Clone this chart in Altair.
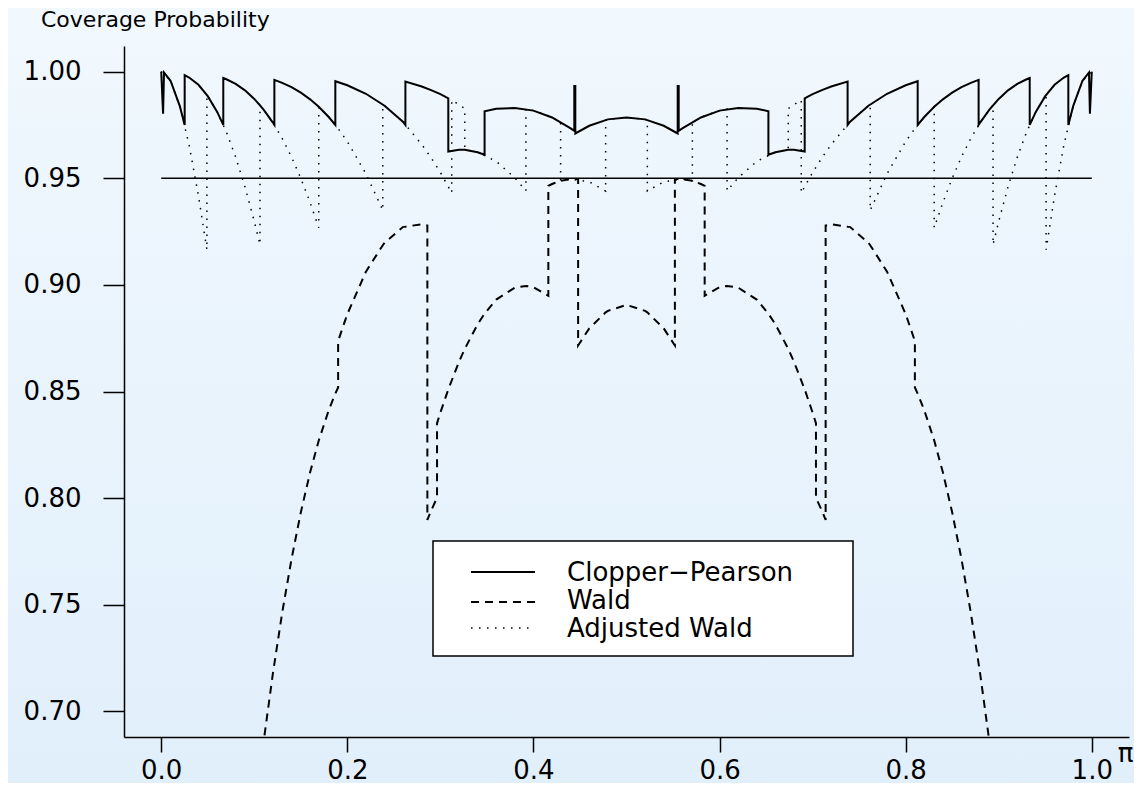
import altair as alt
import pandas as pd

# ---- data (coverage probability vs pi) ----
cp_x = [0.0, 0.001, 0.002, 0.003, 0.01, 0.02, 0.0252, 0.0252, 0.03, 0.04, 0.05, 0.06, 0.0667, 0.0667,
        0.07, 0.08, 0.09, 0.10, 0.11, 0.12, 0.1216, 0.1216, 0.13, 0.14, 0.15, 0.16, 0.1693, 0.18,
        0.1871, 0.1871, 0.20, 0.22, 0.24, 0.26, 0.2624, 0.2624, 0.28, 0.29, 0.30, 0.3085, 0.3085,
        0.32, 0.3262, 0.34, 0.3475, 0.3475, 0.36, 0.38, 0.40, 0.42, 0.44, 0.4439, 0.4439, 0.445, 0.445,
        0.46, 0.48, 0.50,
        0.52, 0.54, 0.555, 0.555, 0.5561, 0.5561, 0.56, 0.58, 0.60, 0.62, 0.64, 0.6525, 0.6525, 0.66,
        0.6738, 0.68, 0.6915, 0.6915, 0.70, 0.71, 0.72, 0.7376, 0.7376, 0.74, 0.76, 0.78, 0.80, 0.8129,
        0.8129, 0.82, 0.8307, 0.84, 0.85, 0.86, 0.87, 0.8784, 0.8784, 0.88, 0.89, 0.90, 0.91, 0.92,
        0.93, 0.9333, 0.9333, 0.94, 0.95, 0.96, 0.97, 0.9748, 0.9748, 0.98, 0.99, 0.997, 0.998, 0.999, 1.0]
cp_y = [1.0, 0.9900, 0.9802, 0.9996, 0.9957, 0.9838, 0.9750, 0.9983, 0.9972, 0.9938, 0.9885, 0.9812, 0.9750, 0.9970,
        0.9964, 0.9942, 0.9912, 0.9872, 0.9822, 0.9761, 0.9750, 0.9961, 0.9947, 0.9927, 0.9901, 0.9870, 0.9835, 0.9787,
        0.9750, 0.9955, 0.9936, 0.9896, 0.9840, 0.9764, 0.9750, 0.9953, 0.9930, 0.9913, 0.9894, 0.9875, 0.9625,
        0.9634, 0.9634, 0.9622, 0.9610, 0.9814, 0.9826, 0.9829, 0.9817, 0.9785, 0.9734, 0.9722, 0.9932, 0.9932, 0.9710,
        0.9746, 0.9776, 0.9785,
        0.9776, 0.9746, 0.9710, 0.9932, 0.9932, 0.9722, 0.9734, 0.9785, 0.9817, 0.9829, 0.9826, 0.9814, 0.9610, 0.9622,
        0.9634, 0.9634, 0.9625, 0.9875, 0.9894, 0.9913, 0.9930, 0.9953, 0.9750, 0.9764, 0.9840, 0.9896, 0.9936, 0.9955,
        0.9750, 0.9787, 0.9835, 0.9870, 0.9901, 0.9927, 0.9947, 0.9961, 0.9750, 0.9761, 0.9822, 0.9872, 0.9912, 0.9942,
        0.9964, 0.9970, 0.9750, 0.9812, 0.9885, 0.9938, 0.9972, 0.9983, 0.9750, 0.9838, 0.9957, 0.9996, 0.9802, 0.9900, 1.0]

wald_x = [0.10, 0.1061, 0.11, 0.12, 0.13, 0.14, 0.15, 0.16, 0.1693, 0.18, 0.1871, 0.1901, 0.1901, 0.20,
          0.22, 0.2381, 0.24, 0.26, 0.2624, 0.28, 0.286, 0.286, 0.29, 0.2964, 0.2964, 0.30, 0.3085, 0.32,
          0.3262, 0.34, 0.3475, 0.36, 0.38, 0.3919, 0.40, 0.416, 0.416, 0.42, 0.4292, 0.44, 0.4439, 0.448,
          0.448, 0.46, 0.4776, 0.48, 0.50,
          0.52, 0.5224, 0.54, 0.552, 0.552, 0.5561, 0.56, 0.5708, 0.58, 0.584, 0.584, 0.60, 0.6081, 0.62,
          0.64, 0.6525, 0.66, 0.6738, 0.68, 0.6915, 0.70, 0.7036, 0.7036, 0.71, 0.714, 0.714, 0.72, 0.7376,
          0.74, 0.76, 0.7619, 0.78, 0.80, 0.8099, 0.8099, 0.8129, 0.82, 0.8307, 0.84, 0.85, 0.86, 0.87,
          0.88, 0.89, 0.8939, 0.90]
wald_y = [0.6497, 0.6721, 0.6857, 0.7178, 0.7463, 0.7714, 0.7933, 0.8121, 0.8270, 0.8412, 0.8490, 0.8519, 0.8737, 0.8863,
          0.9062, 0.9186, 0.9197, 0.9272, 0.9273, 0.9284, 0.9278, 0.7898, 0.7941, 0.8002, 0.8351, 0.8401, 0.8510, 0.8639,
          0.8700, 0.8815, 0.8865, 0.8931, 0.8987, 0.8995, 0.8989, 0.8949, 0.9464, 0.9473, 0.9488, 0.9496, 0.9496, 0.9495,
          0.8716, 0.8796, 0.8871, 0.8878, 0.8906,
          0.8878, 0.8871, 0.8796, 0.8716, 0.9495, 0.9496, 0.9496, 0.9488, 0.9473, 0.9464, 0.8949, 0.8989, 0.8995, 0.8987,
          0.8931, 0.8865, 0.8815, 0.8700, 0.8639, 0.8510, 0.8401, 0.8351, 0.8002, 0.7941, 0.7898, 0.9278, 0.9284, 0.9273,
          0.9272, 0.9197, 0.9186, 0.9062, 0.8863, 0.8737, 0.8519, 0.8490, 0.8412, 0.8270, 0.8121, 0.7933, 0.7714, 0.7463,
          0.7178, 0.6857, 0.6721, 0.6497]

aw_x = [0.0, 0.01, 0.02, 0.03, 0.04, 0.0491, 0.0491, 0.05, 0.06, 0.07, 0.08, 0.09, 0.10, 0.1061, 0.1061,
        0.11, 0.12, 0.13, 0.14, 0.15, 0.16, 0.1693, 0.1693, 0.18, 0.1901, 0.20, 0.22, 0.2381, 0.2381, 0.24,
        0.26, 0.28, 0.29, 0.30, 0.3122, 0.3122, 0.32, 0.3262, 0.3262, 0.34, 0.36, 0.38, 0.3919, 0.3919, 0.40,
        0.416, 0.4292, 0.4292, 0.44, 0.46, 0.4776, 0.4776, 0.48, 0.50,
        0.52, 0.5224, 0.5224, 0.54, 0.56, 0.5708, 0.5708, 0.584, 0.60, 0.6081, 0.6081, 0.62, 0.64, 0.66,
        0.6738, 0.6738, 0.68, 0.6878, 0.6878, 0.70, 0.71, 0.72, 0.74, 0.76, 0.7619, 0.7619, 0.78, 0.80,
        0.8099, 0.82, 0.8307, 0.8307, 0.84, 0.85, 0.86, 0.87, 0.88, 0.89, 0.8939, 0.8939, 0.90, 0.91, 0.92,
        0.93, 0.94, 0.95, 0.9509, 0.9509, 0.96, 0.97, 0.98, 0.99, 1.0]
aw_y = [1.0, 0.9957, 0.9838, 0.9655, 0.9418, 0.9165, 0.9891, 0.9885, 0.9812, 0.9717, 0.9599, 0.9460, 0.9298, 0.9189, 0.9843,
        0.9822, 0.9761, 0.9687, 0.9600, 0.9500, 0.9386, 0.9268, 0.9835, 0.9787, 0.9733, 0.9672, 0.9521, 0.9350, 0.9845, 0.9840,
        0.9764, 0.9658, 0.9596, 0.9527, 0.9431, 0.9866, 0.9845, 0.9827, 0.9634, 0.9622, 0.9579, 0.9502, 0.9441, 0.9824, 0.9817,
        0.9793, 0.9764, 0.9488, 0.9496, 0.9483, 0.9440, 0.9772, 0.9776, 0.9785,
        0.9776, 0.9772, 0.9440, 0.9483, 0.9496, 0.9488, 0.9764, 0.9793, 0.9817, 0.9824, 0.9441, 0.9502, 0.9579, 0.9622,
        0.9634, 0.9827, 0.9845, 0.9866, 0.9431, 0.9527, 0.9596, 0.9658, 0.9764, 0.9840, 0.9845, 0.9350, 0.9521, 0.9672,
        0.9733, 0.9787, 0.9835, 0.9268, 0.9386, 0.9500, 0.9600, 0.9687, 0.9761, 0.9822, 0.9843, 0.9189, 0.9298, 0.9460, 0.9599,
        0.9717, 0.9812, 0.9885, 0.9891, 0.9165, 0.9418, 0.9655, 0.9838, 0.9957, 1.0]

series_names = ["Clopper\u2212Pearson", "Wald", "Adjusted Wald"]
y_title = "Coverage Probability"
x_title = "\u03c0"
nominal_level = 0.95
x_ticks = [0.0, 0.2, 0.4, 0.6, 0.8, 1.0]
y_ticks = [0.70, 0.75, 0.80, 0.85, 0.90, 0.95, 1.00]


def frame(xs, ys):
    return pd.DataFrame({"p": xs, "cov": ys, "i": list(range(len(xs)))})


FONT = "DejaVu Sans"
W, H = 1005, 691
PAD = {"left": 116, "top": 38, "right": 5, "bottom": 46}

xscale = alt.Scale(domain=[-0.04, 1.04], nice=False, zero=False)
yscale = alt.Scale(domain=[0.688, 1.012], nice=False, zero=False)

xaxis = alt.Axis(values=x_ticks, format=".1f", grid=False, domainColor="black", domainWidth=1.5,
                 tickColor="black", tickWidth=1.5, tickSize=15, labelFont=FONT, labelFontSize=26,
                 labelColor="black", labelPadding=26, labelBaseline="alphabetic", labelFlush=False,
                 labelOverlap=False, title=x_title, titleFont=FONT, titleFontSize=26,
                 titleFontWeight="normal", titleColor="black", titleX=1001, titleY=24,
                 titleAlign="center", titleBaseline="alphabetic", zindex=2)
yaxis = alt.Axis(values=y_ticks, format=".2f", grid=False, domainColor="black", domainWidth=1.5,
                 tickColor="black", tickWidth=1.5, tickSize=21, labelFont=FONT, labelFontSize=26,
                 labelColor="black", labelPadding=22, labelBaseline="middle", labelFlush=False,
                 labelOverlap=False, title=None, zindex=2)

X = alt.X("p:Q", scale=xscale, axis=xaxis)
Y = alt.Y("cov:Q", scale=yscale, axis=yaxis)

gradient = alt.LinearGradient(
    gradient="linear",
    stops=[alt.GradientStop(color="#F1F8FE", offset=0), alt.GradientStop(color="#E1EFFB", offset=1)],
    x1=0, x2=0, y1=0, y2=1)

one = alt.Data(values=[{"k": 0}])

bg = alt.Chart(one).mark_rect(color=gradient, clip=False).encode(
    x=alt.value(-PAD["left"]), x2=alt.value(W + PAD["right"]),
    y=alt.value(-PAD["top"]), y2=alt.value(H + PAD["bottom"]))

title_text = alt.Chart(one).mark_text(
    text=y_title, align="left", baseline="alphabetic", font=FONT, fontSize=22, color="black").encode(
    x=alt.value(-83), y=alt.value(-19))

ref = alt.Chart(pd.DataFrame({"p": [0.0], "p2": [1.0], "cov": [nominal_level]})).mark_rule(
    color="black", strokeWidth=1.3).encode(x=X, x2="p2:Q", y=Y)

styles = [
    dict(strokeWidth=2.0),
    dict(strokeWidth=2.0, strokeDash=[8, 6]),
    dict(strokeWidth=1.5, strokeDash=[1.5, 6.5]),
]
frames = [frame(cp_x, cp_y), frame(wald_x, wald_y), frame(aw_x, aw_y)]

lines = []
for df, st in zip(frames, styles):
    lines.append(alt.Chart(df).mark_line(color="black", clip=True, **st).encode(
        x=X, y=Y, order="i:Q"))

legend_box = alt.Chart(one).mark_rect(fill="white", stroke="black", strokeWidth=1.5).encode(
    x=alt.value(309), x2=alt.value(729), y=alt.value(495), y2=alt.value(610))

legend_layers = [legend_box]
row_line_y = [526, 556, 582]
row_text_y = [535, 563, 591]
for name, st, ly, ty in zip(series_names, styles, row_line_y, row_text_y):
    legend_layers.append(alt.Chart(one).mark_rule(color="black", **st).encode(
        x=alt.value(347), x2=alt.value(411), y=alt.value(ly)))
    legend_layers.append(alt.Chart(one).mark_text(
        text=name, align="left", baseline="alphabetic", font=FONT, fontSize=26, color="black").encode(
        x=alt.value(443), y=alt.value(ty)))

chart = alt.layer(bg, title_text, ref, lines[2], lines[1], lines[0], *legend_layers).properties(
    width=W, height=H,
    padding=PAD,
    autosize=alt.AutoSizeParams(type="none"),
    background="#E9F4FD",
).configure_view(stroke=None)

chart.save("out.html", embed_options={"renderer": "svg", "actions": False})
